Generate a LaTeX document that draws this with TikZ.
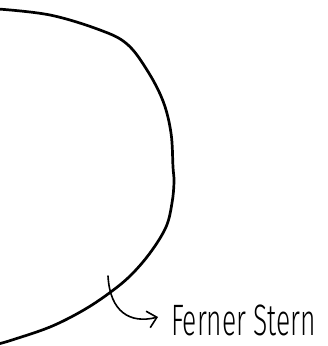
\documentclass[tikz,border=0pt]{standalone}
\usepackage{fontspec}
\newfontfamily\handfont{Fira Sans Light}[FakeStretch=0.6]
\usetikzlibrary{arrows.meta}

\begin{document}
\begin{tikzpicture}[x=1pt,y=-1pt,line cap=round,line join=round,
  rand/.style={draw,line width=2.7pt},
  arr/.style={line width=1.6pt,-{Straight Barb[length=9pt,width=17pt,line width=1.6pt]}},
  label/.style={font=\handfont\fontsize{44}{44}\selectfont,inner sep=0pt}]
\useasboundingbox (0,0) rectangle (328,346);
% Rand des Sterns
\draw[rand] plot[smooth,tension=0.6] coordinates {(-2,9) (50,15) (100,30) (127,44) (147,70) (163,101) (171,133) (173,167) (174,182) (172,203) (166,227) (150,253) (130,276) (108,294) (82,311) (50,327) (12,340) (-2,344)};
\node[label,anchor=base west] (stern) at (171,335) {Ferner Stern};
\coordinate (start) at (108,276);
\draw[arr] (start) .. controls (110,312) and (130,324) .. (158,317);
\end{tikzpicture}
\end{document}
